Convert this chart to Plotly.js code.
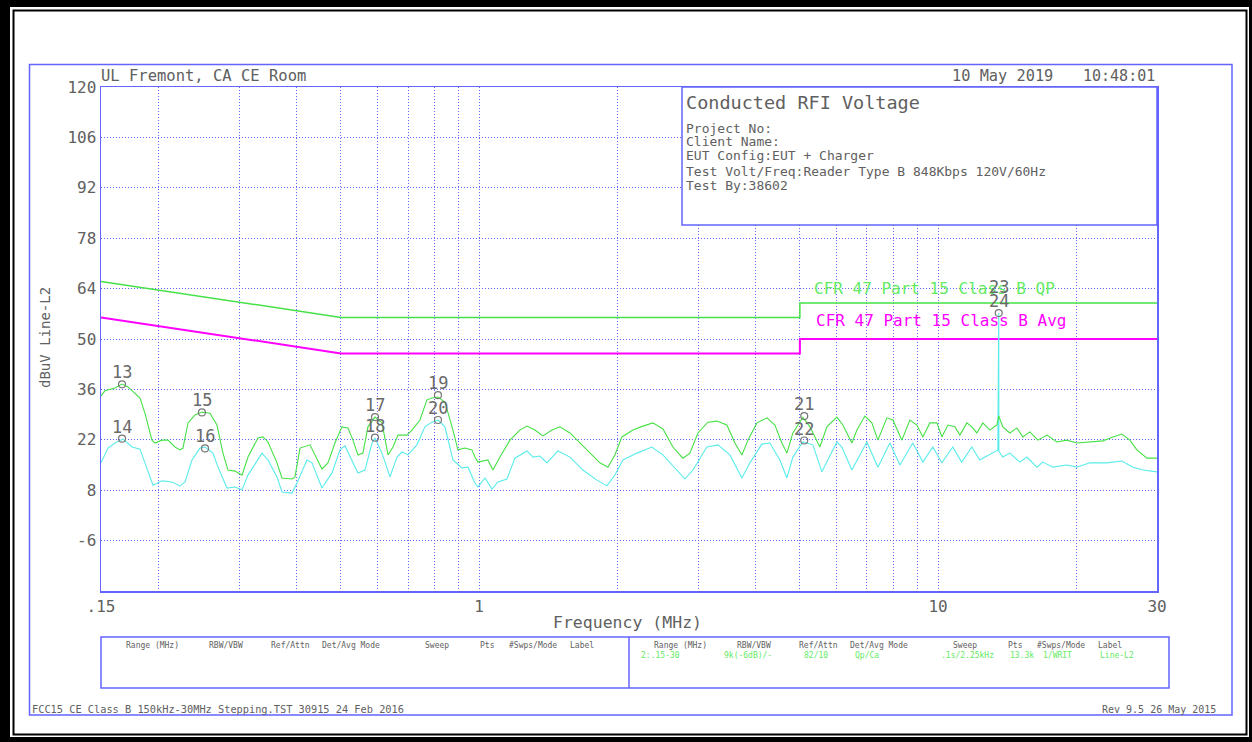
<!DOCTYPE html>
<html>
<head>
<meta charset="utf-8">
<script src="https://cdn.plot.ly/plotly-3.0.1.min.js"></script>
<style>html,body{margin:0;padding:0;background:#fff;}#chart{width:1252px;height:742px;}</style>
</head>
<body>
<div id="chart"></div>
<script>
// ---------------- DATA ----------------
const qpLimitFreq = [0.15, 0.5, 5, 5, 30];
const qpLimitLevel = [66, 56, 56, 60, 60];
const avgLimitFreq = [0.15, 0.5, 5, 5, 30];
const avgLimitLevel = [56, 46, 46, 50, 50];

const peakFreq = [0.15,0.153,0.1609,0.1667,0.1718,0.1779,0.1824,0.187,0.1937,0.1967,0.2037,0.2099,0.2174,0.2229,0.2263,0.2321,0.2404,0.2489,0.2591,0.2684,0.2766,0.2836,0.2937,0.3043,0.3136,0.3297,0.3381,0.3467,0.3627,0.3719,0.3911,0.397,0.4071,0.428,0.4433,0.4545,0.4684,0.4851,0.5025,0.5178,0.531,0.5445,0.5583,0.5725,0.5931,0.6143,0.6331,0.6492,0.6657,0.6962,0.7139,0.7432,0.7697,0.7892,0.8134,0.8425,0.877,0.8992,0.9313,0.9647,0.9793,0.9943,1.0449,1.0718,1.1102,1.1673,1.2272,1.271,1.3231,1.3775,1.4411,1.5,1.5773,1.6584,1.7437,1.8333,1.9086,1.9766,2.0472,2.1633,2.2745,2.3914,2.5149,2.6446,2.7803,2.8794,2.9975,3.1515,3.2969,3.4667,3.6093,3.738,3.8524,4.0302,4.2374,4.4108,4.5689,4.6848,4.8275,5.0759,5.2578,5.5275,5.7255,6.0192,6.2033,6.4895,6.6566,6.9281,7.1751,7.395,7.7358,7.9727,8.3411,8.6814,8.9922,9.2661,9.5982,9.9425,10.194,10.506,10.881,11.158,11.555,11.849,12.149,12.521,12.969,13.43,13.56,13.84,14.34,14.85,15.3,15.85,16.5,17.27,18.15,19.08,20.07,21.42,22.86,24.04,25.15,26.18,27.12,28.52,30];
const peakLevel = [34.2,35.6,36.4,37.5,36.7,35.0,33.6,29.4,21.9,21.1,21.9,21.9,20.0,19.2,19.7,26.7,28.9,29.7,29.4,26.1,18.3,13.6,13.3,12.2,17.2,22.5,22.8,21.4,15.6,11.4,11.1,11.7,19.7,20.6,16.4,13.9,15.6,21.1,25.6,25.3,21.9,17.8,18.3,25.6,28.3,26.7,17.8,20.0,23.3,23.3,24.7,27.5,33.1,33.6,33.9,32.5,24.7,19.2,19.7,19.2,17.2,15.8,16.4,13.6,17.2,21.9,24.7,25.8,24.7,23.1,24.7,25.6,23.9,21.1,18.3,15.6,14.4,17.8,22.8,24.7,25.8,26.7,25.0,20.0,16.9,18.3,23.9,26.9,27.2,26.1,21.1,17.8,21.9,26.7,28.1,26.1,21.1,18.3,23.9,28.3,25.6,20.0,25.6,28.3,26.1,21.1,24.7,28.6,26.7,21.9,28.1,27.5,21.9,27.5,26.1,22.8,26.7,26.7,22.8,26.1,25.6,23.3,26.7,25.6,23.9,26.7,24.7,26.1,28.6,25.6,23.9,25.3,22.8,24.2,21.9,23.3,21.4,21.9,21.1,21.4,21.7,22.8,23.6,21.9,19.2,16.9,16.9];

const avgFreq = [0.15,0.1554,0.1609,0.1675,0.1753,0.1824,0.187,0.1947,0.2037,0.2142,0.2229,0.2286,0.2368,0.2465,0.2528,0.2631,0.2698,0.2822,0.2937,0.3043,0.3136,0.3364,0.3467,0.3627,0.3719,0.3911,0.401,0.4216,0.4323,0.4545,0.478,0.4976,0.5102,0.5285,0.5445,0.564,0.5842,0.5931,0.6143,0.6394,0.6623,0.6791,0.6998,0.732,0.762,0.7892,0.8134,0.8425,0.877,0.9174,0.9455,0.9793,0.9943,1.0297,1.0667,1.0992,1.1498,1.197,1.271,1.3101,1.3567,1.4053,1.485,1.5773,1.6833,1.8054,1.899,1.9766,2.0575,2.208,2.3793,2.5149,2.6979,2.8086,2.924,3.1356,3.3152,3.5193,3.738,3.8909,4.1324,4.3008,4.5225,4.6848,4.8275,5.0759,5.337,5.5836,6.0192,6.1733,6.4895,6.9975,7.395,7.854,8.2575,8.8125,9.2661,9.744,10.194,10.77,11.26,11.849,12.33,13.17,13.5,13.56,13.57,13.84,14.34,15.08,15.62,16.42,16.92,17.79,19.08,20.07,21.42,23.32,25.15,26.58,27.95,30];
const avgLevel = [15.6,19.7,21.1,22.2,20.0,19.4,15.6,9.4,10.6,10.3,9.2,10.3,16.4,19.7,20.0,18.3,14.4,8.6,8.9,8.1,12.2,18.3,16.4,11.7,7.5,7.2,10.0,16.4,15.6,8.6,12.8,19.2,20.3,16.4,12.8,13.6,21.1,22.5,18.3,11.7,17.2,18.6,17.8,20.6,25.6,26.9,27.5,25.6,16.4,14.2,14.4,10.0,8.9,11.4,8.3,10.3,11.1,16.9,18.9,17.2,17.5,15.6,18.9,17.2,13.6,10.8,9.2,12.2,16.4,18.3,20.0,17.8,13.6,11.1,13.6,20.0,20.6,17.8,11.4,15.6,20.8,21.1,16.4,11.4,17.2,21.4,20.6,13.1,21.4,20.0,13.6,21.4,14.4,21.1,15.0,21.1,15.8,20.0,15.6,20.0,15.8,20.0,16.4,18.6,19.2,57.2,18.8,17.2,18.3,15.8,17.2,14.4,15.8,14.4,15.0,14.4,15.6,15.6,16.1,14.4,13.6,13.1];

const markerFreq = [0.1667,0.1667,0.2489,0.2528,0.5931,0.5931,0.8134,0.8134,5.11,5.11,13.56];
const markerLevel = [37.4,22.3,29.6,19.6,28.3,22.6,34.4,27.5,28.6,21.8,57.2];
const markerLabel = ['13','14','15','16','17','18','19','20','21','22','24'];
const extraMarkerLabel = '23';

const yTickVals = [-20,-6,8,22,36,50,64,78,92,106,120];
const yTickText = ['','-6','8','22','36','50','64','78','92','106','120'];
const xTickVals = [0.15,0.2,0.3,0.4,0.5,0.6,0.7,0.8,0.9,1,2,3,4,5,6,7,8,9,10,20,30];
const xTickText = ['.15','','','','','','','','','1','','','','','','','','','10','','30'];

const headerText = 'UL Fremont, CA CE Room';
const dateText = '10 May 2019';
const timeText = '10:48:01';
const boxTitle = 'Conducted RFI Voltage';
const boxLines = ['Project No:','Client Name:','EUT Config:EUT + Charger','Test Volt/Freq:Reader Type B 848Kbps 120V/60Hz','Test By:38602'];
const qpLabel = 'CFR 47 Part 15 Class B QP';
const avgLabel = 'CFR 47 Part 15 Class B Avg';
const tableHeaders = ['Range (MHz)','RBW/VBW','Ref/Attn','Det/Avg Mode','Sweep','Pts','#Swps/Mode','Label'];
const tableValues = ['2:.15-30','9k(-6dB)/-','82/10','Qp/Ca','.1s/2.25kHz','13.3k','1/WRIT','Line-L2'];
const footerLeft = 'FCC15 CE Class B 150kHz-30MHz Stepping.TST 30915 24 Feb 2016';
const footerRight = 'Rev 9.5 26 May 2015';

// ---------------- LAYOUT ----------------
const W = 1252, H = 742, PL = 101, PR = 1157, PT = 87, PB = 591;
const X = p => (p - PL) / (PR - PL);
const Y = p => (PB - p) / (PB - PT);
const MONO = 'DejaVu Sans Mono, Liberation Mono, monospace';
const BLUE = 'rgb(100,100,255)';
const GRAY = '#606060';
const GREEN = 'rgb(70,225,70)';
const LGREEN = 'rgb(100,235,100)';
const CYAN = 'rgb(90,235,235)';
const MAG = 'rgb(255,0,255)';

function T(text, px, py, size, color, anchor, extra) {
  return Object.assign({xref:'paper', yref:'paper', x:X(px), y:Y(py), text:text, showarrow:false,
    xanchor:anchor || 'left', yanchor:'middle', borderpad:0,
    font:{family:MONO, size:size, color:color || GRAY}}, extra || {});
}

const annotations = [
  T(headerText, 100, 76, 15.5),
  T(dateText, 951, 76, 15.3),
  T(timeText, 1082, 76, 15),
  T(boxTitle, 685, 102, 18.5),
  T(qpLabel, 813, 288, 16, LGREEN),
  T(avgLabel, 815, 320, 16, MAG),
  T('Frequency (MHz)', 627, 622, 16.5, GRAY, 'center'),
  T('dBuV Line-L2', 45, 338, 14, GRAY, 'center', {textangle:-90}),
  T(footerLeft, 31, 709, 10.3),
  T(footerRight, 1217, 709, 10, GRAY, 'right')
];
const boxLineY = [128, 142, 156, 171, 185];
boxLines.forEach((s, i) => annotations.push(T(s, 685, boxLineY[i], 13)));
const colOffsets = [24, 107, 169, 220, 323, 378, 407, 468];
const valOffsets = [11, 94, 174, 225, 311, 380, 413, 470];
tableHeaders.forEach((s, i) => {
  annotations.push(T(s, 101 + colOffsets[i], 645, 8));
  annotations.push(T(s, 629 + colOffsets[i], 645, 8));
});
tableValues.forEach((s, i) => annotations.push(T(s, 629 + valOffsets[i], 655, 8, LGREEN)));

// marker labels
markerFreq.forEach((f, i) => {
  annotations.push({xref:'x', yref:'y', x:Math.log10(f), y:markerLevel[i], yshift:12, text:markerLabel[i],
    showarrow:false, xanchor:'center', yanchor:'middle', font:{family:MONO, size:17, color:'#6a6a6a'}});
});
annotations.push({xref:'x', yref:'y', x:Math.log10(markerFreq[markerFreq.length-1]), y:markerLevel[markerLevel.length-1],
  yshift:26, text:extraMarkerLabel, showarrow:false, xanchor:'center', yanchor:'middle',
  font:{family:MONO, size:17, color:'#6a6a6a'}});

function R(x0, y0, x1, y1, opts) {
  return Object.assign({type:'rect', xref:'paper', yref:'paper', x0:X(x0), x1:X(x1), y0:Y(y1), y1:Y(y0)}, opts);
}
const shapes = [
  R(0, 0, W, H, {fillcolor:'black', line:{width:0}, layer:'below'}),
  R(10, 7, 1249, 737, {fillcolor:'white', line:{width:0}, layer:'below'}),
  R(13.5, 10.5, 1246.5, 734.5, {line:{color:'black', width:2}, layer:'below'}),
  R(29.5, 64.5, 1232, 715, {line:{color:BLUE, width:1.5}, layer:'below'}),
  R(682, 87, 1157, 225, {fillcolor:'white', line:{color:BLUE, width:1.5}, layer:'above'}),
  R(101, 637, 1169, 688, {line:{color:BLUE, width:1.5}, layer:'below'}),
  {type:'line', xref:'paper', yref:'paper', x0:X(629), x1:X(629), y0:Y(637), y1:Y(688), line:{color:BLUE, width:1.5}}
];

const traces = [
  {x:qpLimitFreq, y:qpLimitLevel, mode:'lines', line:{color:GREEN, width:1.5}, hoverinfo:'skip'},
  {x:avgLimitFreq, y:avgLimitLevel, mode:'lines', line:{color:MAG, width:2}, hoverinfo:'skip'},
  {x:avgFreq, y:avgLevel, mode:'lines', line:{color:CYAN, width:1.1}, hoverinfo:'skip'},
  {x:peakFreq, y:peakLevel, mode:'lines', line:{color:GREEN, width:1.1}, hoverinfo:'skip'},
  {x:markerFreq, y:markerLevel, mode:'markers', marker:{symbol:'circle-open', size:7, color:'#777', line:{width:1.2}}, hoverinfo:'skip'}
];

const layout = {
  width:W, height:H, showlegend:false,
  margin:{l:PL, r:W-PR, t:PT, b:H-PB, pad:0},
  paper_bgcolor:'white', plot_bgcolor:'white',
  xaxis:{type:'log', range:[Math.log10(0.15), Math.log10(30)], tickmode:'array', tickvals:xTickVals, ticktext:xTickText,
    showgrid:true, gridcolor:BLUE, griddash:'1px,2px', gridwidth:1, zeroline:false,
    showline:true, mirror:true, linecolor:BLUE, linewidth:1.5, ticks:'',
    tickfont:{family:MONO, size:16, color:GRAY}},
  yaxis:{range:[-20,120], tickmode:'array', tickvals:yTickVals, ticktext:yTickText,
    showgrid:true, gridcolor:BLUE, griddash:'1px,2px', gridwidth:1, zeroline:false,
    showline:true, mirror:true, linecolor:BLUE, linewidth:1.5, ticks:'',
    tickfont:{family:MONO, size:16, color:GRAY}},
  shapes:shapes, annotations:annotations
};

Plotly.newPlot('chart', traces, layout, {staticPlot:true, displayModeBar:false});
</script>
</body>
</html>
